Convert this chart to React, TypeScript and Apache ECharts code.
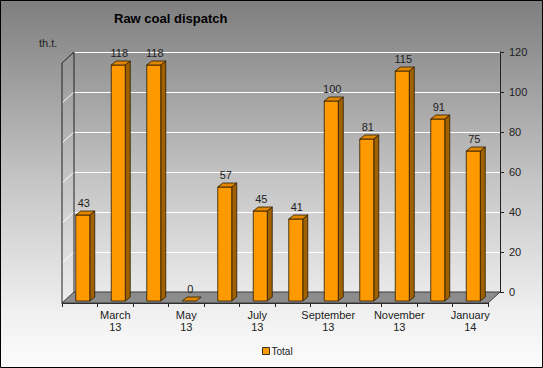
import React, { useEffect, useRef } from "react";
import * as echarts from "echarts";

const months = [
  "February\n13", "March\n13", "April\n13", "May\n13", "June\n13", "July\n13",
  "August\n13", "September\n13", "October\n13", "November\n13", "December\n13", "January\n14",
];
const totals = [43, 118, 118, 0, 57, 45, 41, 100, 81, 115, 91, 75];
const yTicks = [0, 20, 40, 60, 80, 100, 120];
const seriesName = "Total";

const FONT = "Arial, 'Liberation Sans', sans-serif";
const DX = -12;
const DY = 11;

export default function App() {
  const ref = useRef<HTMLDivElement>(null);
  useEffect(() => {
    if (!ref.current) return;
    const chart = echarts.init(ref.current, null, { renderer: "svg" });
    const yMax = yTicks[yTicks.length - 1];

    const frameRender = (params: any, api: any) => {
      const p0 = api.coord([0, 0]);
      const bw = api.size([1, 0])[0];
      const xl = p0[0] - bw / 2;
      const xr = xl + months.length * bw;
      const yb = p0[1];
      const yt = api.coord([0, yMax])[1];
      const children: any[] = [];
      yTicks.forEach((t) => {
        if (t === 0 || t === yMax) return;
        const y = api.coord([0, t])[1];
        children.push({
          type: "line",
          shape: { x1: xl, y1: y, x2: xl + DX, y2: y + DY },
          style: { stroke: "#ffffff", lineWidth: 1 },
        });
      });
      children.push({
        type: "polyline",
        shape: { points: [[xl + DX, yb + DY], [xl + DX, yt + DY], [xl, yt], [xl, yb]] },
        style: { stroke: "#222", lineWidth: 1, fill: null },
      });
      children.push({
        type: "polygon",
        shape: { points: [[xl, yb], [xr, yb], [xr + DX, yb + DY], [xl + DX, yb + DY]] },
        style: { fill: "#8c8c8c", stroke: "#3a3a3a", lineWidth: 1 },
      });
      return { type: "group", children };
    };

    const barRender = (params: any, api: any) => {
      const v = api.value(1);
      const p = api.coord([api.value(0), v]);
      const p0 = api.coord([api.value(0), 0]);
      const cx = p[0] - 9;
      const top = p[1] + 9;
      const bot = p0[1] + 9;
      const xl = cx - 7;
      const xr = cx + 7;
      const d = 5;
      const e = 4;
      const outline = { stroke: "#2a1a00", lineWidth: 0.8 };
      const children: any[] = [];
      if (bot - top > 0.5) {
        children.push({
          type: "polygon",
          shape: { points: [[xr, top], [xr + d, top - e], [xr + d, bot - e], [xr, bot]] },
          style: { fill: "#a06200", ...outline },
        });
        children.push({
          type: "rect",
          shape: { x: xl, y: top, width: xr - xl, height: bot - top },
          style: { fill: "#ff9900", ...outline },
        });
      }
      children.push({
        type: "polygon",
        shape: { points: [[xl, top], [xl + d, top - e], [xr + d, top - e], [xr, top]] },
        style: { fill: "#e08600", ...outline },
      });
      children.push({
        type: "text",
        style: {
          text: String(v),
          x: cx + 1,
          y: top - 7,
          align: "center",
          verticalAlign: "bottom",
          font: `11px ${FONT}`,
          fill: "#222",
        },
      });
      return { type: "group", children };
    };

    chart.setOption({
      animation: false,
      backgroundColor: {
        type: "linear", x: 0, y: 0, x2: 0, y2: 1,
        colorStops: [
          { offset: 0, color: "#7e7e7e" },
          { offset: 0.5, color: "#c6c6c6" },
          { offset: 0.85, color: "#f0f0f0" },
          { offset: 1, color: "#fcfcfc" },
        ],
      },
      title: {
        text: "Raw coal dispatch",
        left: 114,
        top: 12,
        padding: 0,
        textStyle: { fontFamily: FONT, fontSize: 13, fontWeight: "bold", color: "#000" },
      },
      legend: {
        data: [seriesName],
        left: 262,
        top: 346,
        padding: 0,
        itemWidth: 7,
        itemHeight: 7,
        icon: "rect",
        itemStyle: { color: "#ff9900", borderColor: "#333", borderWidth: 1 },
        textStyle: { fontFamily: FONT, fontSize: 10, color: "#222", padding: [0, 0, 0, -3] },
      },
      grid: [
        { left: 74, right: 43, top: 52, bottom: 76 },
        { left: 74 + DX, right: 43 - DX, top: 52 + DY, bottom: 76 - DY },
      ],
      xAxis: [
        { type: "category", gridIndex: 0, data: months, show: false },
        {
          type: "category",
          gridIndex: 1,
          data: months,
          axisLine: { lineStyle: { color: "#222", width: 1 } },
          axisTick: { show: true, interval: 0, length: 4, alignWithLabel: false, lineStyle: { color: "#222" } },
          axisLabel: {
            interval: (i: number) => i % 2 === 1,
            margin: 6,
            fontFamily: FONT,
            fontSize: 11,
            lineHeight: 12,
            color: "#222",
          },
        },
      ],
      yAxis: [
        {
          type: "value",
          gridIndex: 0,
          position: "right",
          min: 0,
          max: 120,
          interval: 20,
          axisLine: { show: true, lineStyle: { color: "#222", width: 1 } },
          axisTick: { show: true, length: 4, lineStyle: { color: "#222" } },
          axisLabel: { margin: 9, fontFamily: FONT, fontSize: 11, color: "#222" },
          splitLine: { show: true, lineStyle: { color: "#ffffff", width: 1 } },
        },
        { type: "value", gridIndex: 1, min: 0, max: 120, show: false },
      ],
      graphic: [
        {
          type: "text",
          left: 39,
          top: 37,
          style: { text: "th.t.", font: `11px ${FONT}`, fill: "#222" },
        },
        {
          type: "rect",
          shape: { x: 0.5, y: 0.5, width: 542, height: 367 },
          style: { fill: null, stroke: "#000", lineWidth: 1 },
          silent: true,
        },
      ],
      series: [
        {
          type: "custom",
          name: "frame",
          xAxisIndex: 0,
          yAxisIndex: 0,
          data: [[0, 0]],
          renderItem: frameRender,
          silent: true,
          z: 1,
        },
        {
          type: "custom",
          name: seriesName,
          xAxisIndex: 0,
          yAxisIndex: 0,
          itemStyle: { color: "#ff9900" },
          data: totals.map((v, i) => [i, v]),
          encode: { x: 0, y: 1 },
          renderItem: barRender,
          silent: true,
          z: 3,
        },
      ],
    });
    return () => chart.dispose();
  }, []);
  return (
    <div
      ref={ref}
      style={{ position: "absolute", left: 0, top: 0, width: 543, height: 368 }}
    />
  );
}
